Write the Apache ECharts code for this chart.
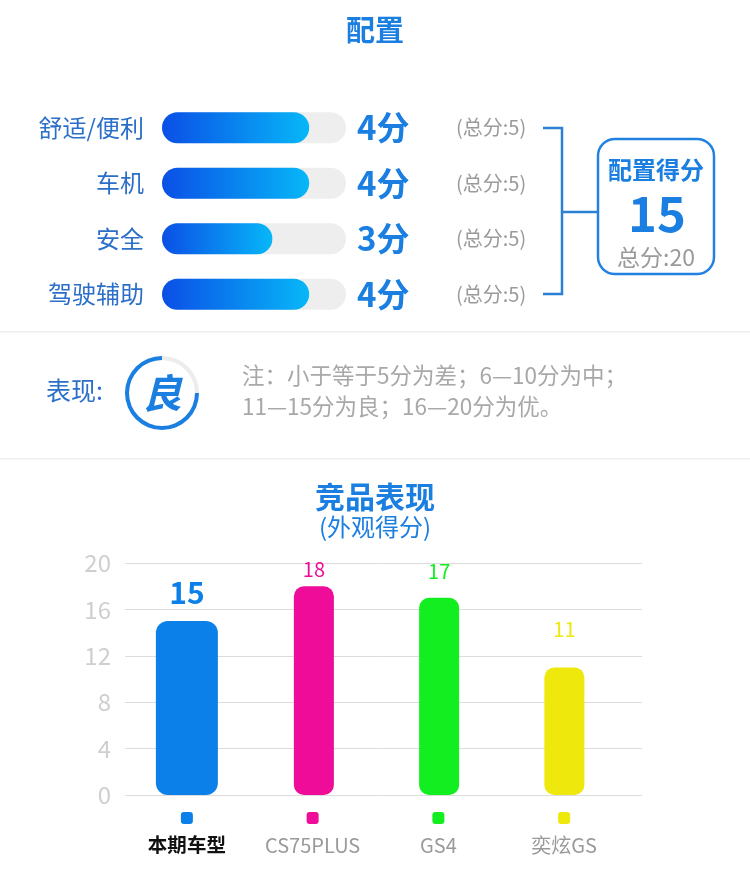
<!DOCTYPE html>
<html>
<head>
<meta charset="utf-8">
<script src="https://cdn.jsdelivr.net/npm/echarts@6/dist/echarts.min.js"></script>
<style>
html,body{margin:0;padding:0;background:#fff;}
#c{width:750px;height:888px;}
</style>
</head>
<body>
<div id="c"></div>
<script>
// ---- data ----
const categories = ['舒适/便利', '车机', '安全', '驾驶辅助'];
const scores = [4, 4, 3, 4];
const fullScores = [5, 5, 5, 5];
const totalFull = 20;
const ratingText = '良';
const noteLines = ['注：小于等于5分为差；6—10分为中；', '11—15分为良；16—20分为优。'];
const models = ['本期车型', 'CS75PLUS', 'GS4', '奕炫GS'];
const modelScores = [15, 18, 17, 11];
const yTickMin = 0, yTickMax = 20, yTickStep = 4;

// ---- styles ----
const FONT = '"Noto Sans CJK SC", "Noto Sans", sans-serif';
const BLUE = '#1a7fe0';
const LABEL_BLUE = '#2b6fc9';
const GRAY = '#9a9a9a';
const modelColors = ['#0a80e8', '#ee0c98', '#12ee20', '#eee80c'];
const modelLabelGap = [13, 7, 16, 28];

const total = scores.reduce((a, b) => a + b, 0);

const chart = echarts.init(document.getElementById('c'));

const gridTop = 100, gridH = 222;
const centerText = { textAlign: 'center', textVerticalAlign: 'middle', align: 'center', verticalAlign: 'middle' };
const leftText = { textVerticalAlign: 'middle', verticalAlign: 'middle' };

const option = {
  backgroundColor: '#fff',
  animation: false,
  textStyle: { fontFamily: FONT },
  grid: [
    { left: 162, top: gridTop, width: 184, height: gridH },
    { left: 125, top: 563, width: 517, height: 232 },
    { left: 124, top: 563, width: 503, height: 232 },
    { left: 126, top: 563, width: 501, height: 232 }
  ],
  xAxis: [
    { gridIndex: 0, type: 'value', min: 0, max: 5, show: false },
    { gridIndex: 1, type: 'category', data: models, show: false },
    {
      gridIndex: 2, type: 'category', data: models,
      axisLine: { show: false }, axisTick: { show: false },
      axisLabel: {
        margin: 16, interval: 0,
        formatter: (v, i) => '{m' + i + '|}\n{' + (i === 0 ? 'b' : 't') + '|' + v + '}',
        rich: Object.assign({
          b: { fontSize: 19.5, fontWeight: 'bold', color: '#111', lineHeight: 40, fontFamily: FONT },
          t: { fontSize: 20, color: GRAY, lineHeight: 40, fontFamily: FONT }
        }, ...modelColors.map((c, i) => ({ ['m' + i]: { width: 12, height: 12, lineHeight: 14, backgroundColor: c, borderRadius: 3 } })))
      }
    },
    { gridIndex: 3, type: 'category', data: models, show: false }
  ],
  yAxis: [
    {
      gridIndex: 0, type: 'category', data: categories, inverse: true,
      axisLine: { show: false }, axisTick: { show: false },
      axisLabel: { margin: 18, fontSize: 24, color: LABEL_BLUE, fontFamily: FONT }
    },
    {
      gridIndex: 0, type: 'category', data: categories, inverse: true, position: 'right',
      axisLine: { show: false }, axisTick: { show: false },
      axisLabel: {
        margin: 11, fontSize: 33, fontWeight: 'bold', color: BLUE, fontFamily: FONT,
        formatter: (v, i) => scores[i] + '分'
      }
    },
    {
      gridIndex: 0, type: 'category', data: categories, inverse: true, position: 'right', offset: 110,
      axisLine: { show: false }, axisTick: { show: false },
      axisLabel: {
        margin: 0, fontSize: 20, color: GRAY, fontFamily: FONT,
        formatter: (v, i) => '(总分:' + fullScores[i] + ')'
      }
    },
    {
      gridIndex: 1, type: 'value', min: yTickMin, max: yTickMax, interval: yTickStep,
      axisLine: { show: false }, axisTick: { show: false },
      splitLine: { lineStyle: { color: '#dcdcdc', width: 1 } },
      axisLabel: { margin: 14, fontSize: 24, color: '#cfcfcf', fontFamily: FONT }
    },
    { gridIndex: 2, type: 'value', min: yTickMin, max: yTickMax, show: false, splitLine: { show: false } },
    { gridIndex: 3, type: 'value', min: yTickMin, max: yTickMax, show: false, splitLine: { show: false } }
  ],
  series: [
    {
      type: 'bar', xAxisIndex: 0, yAxisIndex: 0, data: scores, barWidth: 31,
      showBackground: true,
      backgroundStyle: { color: '#eeeeee', borderRadius: 16 },
      itemStyle: {
        borderRadius: 16,
        color: new echarts.graphic.LinearGradient(0, 0, 1, 0, [
          { offset: 0, color: '#0b4fe6' }, { offset: 1, color: '#07b7f8' }
        ])
      },
      silent: true
    },
    {
      type: 'pie', center: [162, 393], radius: [33, 37], startAngle: 90, clockwise: true,
      silent: true, label: { show: false }, labelLine: { show: false },
      data: [
        { value: totalFull - total, itemStyle: { color: '#ececec' } },
        { value: total, itemStyle: { color: BLUE } }
      ]
    },
    {
      type: 'bar', xAxisIndex: 2, yAxisIndex: 4, barWidth: 62,
      data: modelScores.map((v, i) => i === 0 ? {
        value: v,
        itemStyle: { color: modelColors[i], borderRadius: 12 },
        label: { show: true, position: 'top', distance: modelLabelGap[i], fontSize: 30, fontWeight: 'bold', color: modelColors[i], fontFamily: FONT }
      } : '-')
    },
    {
      type: 'bar', xAxisIndex: 3, yAxisIndex: 5, barWidth: 40,
      data: modelScores.map((v, i) => i === 0 ? '-' : {
        value: v,
        itemStyle: { color: modelColors[i], borderRadius: 10 },
        label: { show: true, position: 'top', distance: modelLabelGap[i], fontSize: 20, color: modelColors[i], fontFamily: FONT }
      })
    }
  ],
  graphic: [
    { type: 'text', x: 375, y: 30, style: Object.assign({ text: '配置', fill: BLUE, font: 'bold 29px ' + FONT }, centerText) },
    { type: 'rect', shape: { x: 0, y: 331, width: 750, height: 1.5 }, style: { fill: '#eeeeee' } },
    { type: 'rect', shape: { x: 0, y: 458, width: 750, height: 1.5 }, style: { fill: '#eeeeee' } },
    { type: 'polyline', shape: { points: [[543, 128], [562, 128], [562, 294], [543, 294]] }, style: { stroke: '#2a80d2', lineWidth: 2.5, fill: null } },
    { type: 'line', shape: { x1: 562, y1: 212, x2: 598, y2: 212 }, style: { stroke: '#2a80d2', lineWidth: 2.5 } },
    { type: 'rect', shape: { x: 598, y: 139, width: 116, height: 135, r: 17 }, style: { stroke: '#2382e0', lineWidth: 2.5, fill: '#fff' } },
    { type: 'text', x: 656, y: 170, style: Object.assign({ text: '配置得分', fill: BLUE, font: 'bold 24px ' + FONT }, centerText) },
    { type: 'text', x: 657, y: 213, style: Object.assign({ text: String(total), fill: BLUE, font: 'bold 49px ' + FONT }, centerText) },
    { type: 'text', x: 656, y: 257, style: Object.assign({ text: '总分:' + totalFull, fill: GRAY, font: '23px ' + FONT }, centerText) },
    { type: 'text', x: 46, y: 390, style: Object.assign({ text: '表现:', fill: LABEL_BLUE, font: '25px ' + FONT }, leftText) },
    { type: 'text', x: 162, y: 393, style: Object.assign({ text: ratingText, fill: BLUE, font: 'italic bold 40px ' + FONT }, centerText) },
    { type: 'text', x: 242, y: 375, style: Object.assign({ text: noteLines[0], fill: '#a8a8a8', font: '22.5px ' + FONT }, leftText) },
    { type: 'text', x: 242, y: 406, style: Object.assign({ text: noteLines[1], fill: '#a8a8a8', font: '22.5px ' + FONT }, leftText) },
    { type: 'text', x: 375, y: 497, style: Object.assign({ text: '竞品表现', fill: BLUE, font: 'bold 30px ' + FONT }, centerText) },
    { type: 'text', x: 375, y: 527, style: Object.assign({ text: '(外观得分)', fill: BLUE, font: '24px ' + FONT }, centerText) }
  ]
};

chart.setOption(option);
</script>
</body>
</html>
